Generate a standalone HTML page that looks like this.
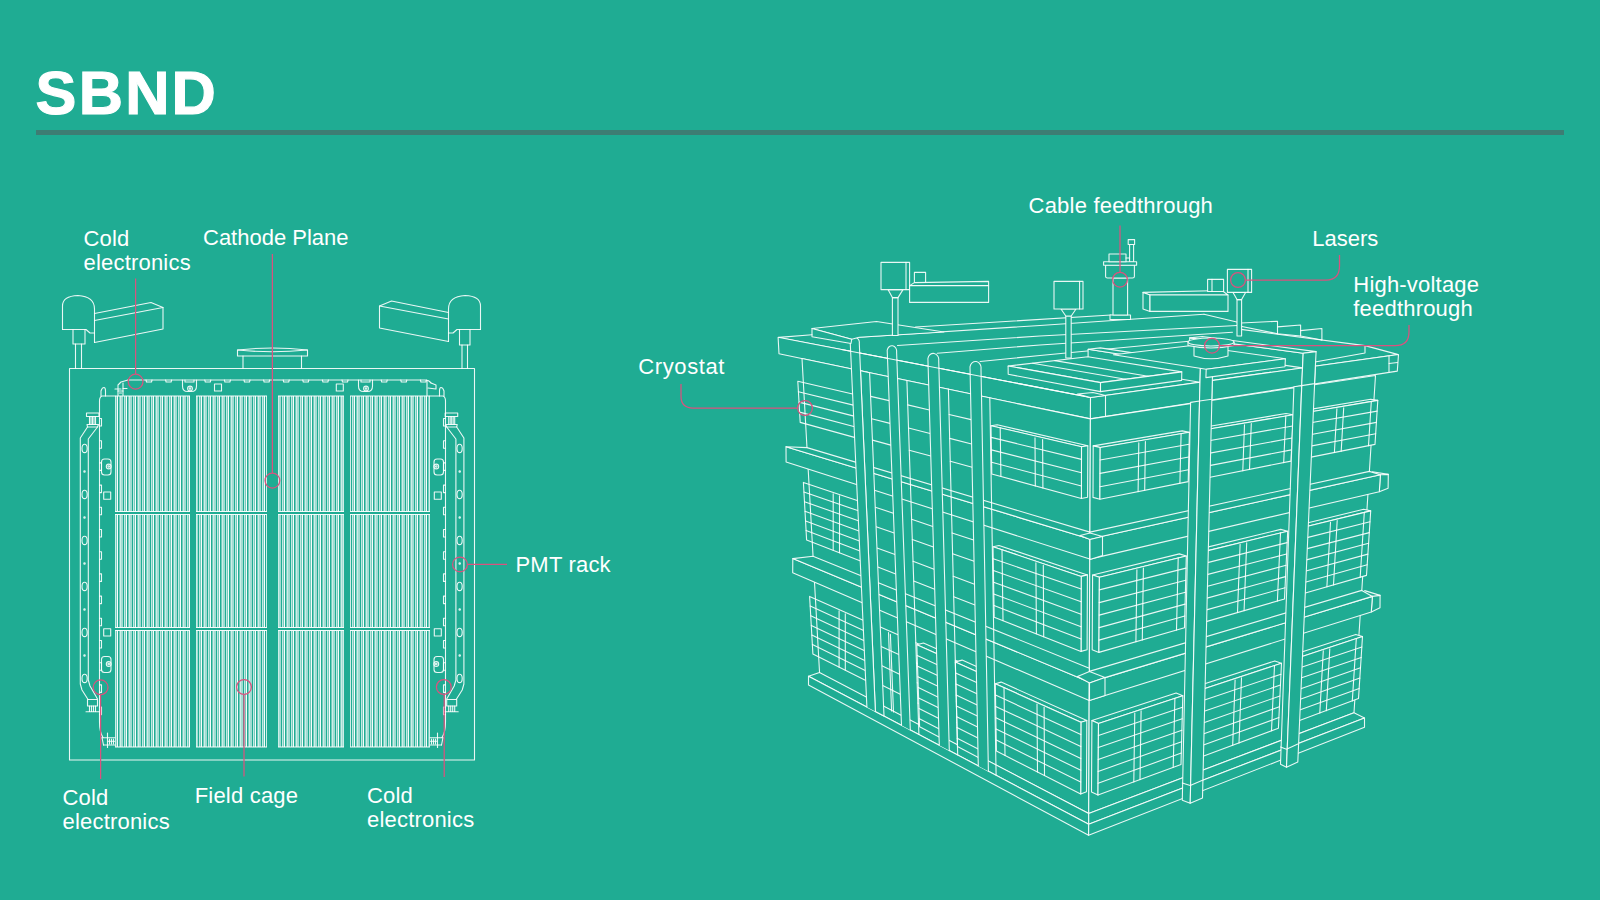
<!DOCTYPE html>
<html><head><meta charset="utf-8"><title>SBND</title>
<style>
html,body{margin:0;padding:0;}
body{width:1600px;height:900px;background:#1fac93;overflow:hidden;position:relative;font-family:"Liberation Sans",sans-serif;color:#fff;}
h1{position:absolute;left:35.6px;top:57.5px;-webkit-text-stroke:1.1px #fff;margin:0;font-size:61.3px;line-height:70px;font-weight:bold;letter-spacing:2.2px;}
.rule{position:absolute;left:36px;top:130px;width:1528px;height:5px;background:#3d7d73;}
.lb{position:absolute;font-size:22px;line-height:23.8px;white-space:nowrap;letter-spacing:.2px;}
svg{position:absolute;left:0;top:0;}
.w path,.w rect,.w circle,.w ellipse{fill:none;stroke:#fff;stroke-width:1.1;stroke-opacity:.9;stroke-linejoin:round;stroke-linecap:round}
.p path,.p circle{fill:none;stroke:#da527f;stroke-width:1.25;}
</style></head><body>
<h1>SBND</h1><div class="rule"></div>
<svg width="1600" height="900" viewBox="0 0 1600 900">
<g class="g"><path d="M115.5 396V511.5M115.5 514.5V627.5M115.5 630.5V747M120.5 396V511.5M120.5 514.5V627.5M120.5 630.5V747M129.5 396V511.5M129.5 514.5V627.5M129.5 630.5V747M138.5 396V511.5M138.5 514.5V627.5M138.5 630.5V747M147.5 396V511.5M147.5 514.5V627.5M147.5 630.5V747M156.5 396V511.5M156.5 514.5V627.5M156.5 630.5V747M165.5 396V511.5M165.5 514.5V627.5M165.5 630.5V747M174.5 396V511.5M174.5 514.5V627.5M174.5 630.5V747M183.5 396V511.5M183.5 514.5V627.5M183.5 630.5V747" fill="none" stroke="#fff" stroke-width="1" stroke-opacity="0.78"/>
<path d="M116.5 396V511.5M116.5 514.5V627.5M116.5 630.5V747M119.5 396V511.5M119.5 514.5V627.5M119.5 630.5V747M125.5 396V511.5M125.5 514.5V627.5M125.5 630.5V747M128.5 396V511.5M128.5 514.5V627.5M128.5 630.5V747M134.5 396V511.5M134.5 514.5V627.5M134.5 630.5V747M137.5 396V511.5M137.5 514.5V627.5M137.5 630.5V747M143.5 396V511.5M143.5 514.5V627.5M143.5 630.5V747M146.5 396V511.5M146.5 514.5V627.5M146.5 630.5V747M152.5 396V511.5M152.5 514.5V627.5M152.5 630.5V747M155.5 396V511.5M155.5 514.5V627.5M155.5 630.5V747M161.5 396V511.5M161.5 514.5V627.5M161.5 630.5V747M164.5 396V511.5M164.5 514.5V627.5M164.5 630.5V747M170.5 396V511.5M170.5 514.5V627.5M170.5 630.5V747M173.5 396V511.5M173.5 514.5V627.5M173.5 630.5V747M179.5 396V511.5M179.5 514.5V627.5M179.5 630.5V747M182.5 396V511.5M182.5 514.5V627.5M182.5 630.5V747M188.5 396V511.5M188.5 514.5V627.5M188.5 630.5V747" fill="none" stroke="#fff" stroke-width="1" stroke-opacity="0.39"/>
<path d="M117.5 396V511.5M117.5 514.5V627.5M117.5 630.5V747M126.5 396V511.5M126.5 514.5V627.5M126.5 630.5V747M135.5 396V511.5M135.5 514.5V627.5M135.5 630.5V747M144.5 396V511.5M144.5 514.5V627.5M144.5 630.5V747M153.5 396V511.5M153.5 514.5V627.5M153.5 630.5V747M162.5 396V511.5M162.5 514.5V627.5M162.5 630.5V747M171.5 396V511.5M171.5 514.5V627.5M171.5 630.5V747M180.5 396V511.5M180.5 514.5V627.5M180.5 630.5V747M189.5 396V511.5M189.5 514.5V627.5M189.5 630.5V747" fill="none" stroke="#fff" stroke-width="1" stroke-opacity="0.97"/>
<path d="M121.5 396V511.5M121.5 514.5V627.5M121.5 630.5V747M122.5 396V511.5M122.5 514.5V627.5M122.5 630.5V747M130.5 396V511.5M130.5 514.5V627.5M130.5 630.5V747M131.5 396V511.5M131.5 514.5V627.5M131.5 630.5V747M139.5 396V511.5M139.5 514.5V627.5M139.5 630.5V747M140.5 396V511.5M140.5 514.5V627.5M140.5 630.5V747M148.5 396V511.5M148.5 514.5V627.5M148.5 630.5V747M149.5 396V511.5M149.5 514.5V627.5M149.5 630.5V747M157.5 396V511.5M157.5 514.5V627.5M157.5 630.5V747M158.5 396V511.5M158.5 514.5V627.5M158.5 630.5V747M166.5 396V511.5M166.5 514.5V627.5M166.5 630.5V747M167.5 396V511.5M167.5 514.5V627.5M167.5 630.5V747M175.5 396V511.5M175.5 514.5V627.5M175.5 630.5V747M176.5 396V511.5M176.5 514.5V627.5M176.5 630.5V747M184.5 396V511.5M184.5 514.5V627.5M184.5 630.5V747M185.5 396V511.5M185.5 514.5V627.5M185.5 630.5V747" fill="none" stroke="#fff" stroke-width="1" stroke-opacity="0.58"/>
<path d="M124.5 396V511.5M124.5 514.5V627.5M124.5 630.5V747M133.5 396V511.5M133.5 514.5V627.5M133.5 630.5V747M142.5 396V511.5M142.5 514.5V627.5M142.5 630.5V747M151.5 396V511.5M151.5 514.5V627.5M151.5 630.5V747M160.5 396V511.5M160.5 514.5V627.5M160.5 630.5V747M169.5 396V511.5M169.5 514.5V627.5M169.5 630.5V747M178.5 396V511.5M178.5 514.5V627.5M178.5 630.5V747M187.5 396V511.5M187.5 514.5V627.5M187.5 630.5V747" fill="none" stroke="#fff" stroke-width="1" stroke-opacity="0.73"/>
<path d="M115 396H190M115 511.5H190M115 514.5H190M115 627.5H190M115 630.5H190M115 747H190" fill="none" stroke="#fff" stroke-width="1" stroke-opacity=".95"/>
<path d="M196.5 396V511.5M196.5 514.5V627.5M196.5 630.5V747M204.5 396V511.5M204.5 514.5V627.5M204.5 630.5V747M213.5 396V511.5M213.5 514.5V627.5M213.5 630.5V747M222.5 396V511.5M222.5 514.5V627.5M222.5 630.5V747M231.5 396V511.5M231.5 514.5V627.5M231.5 630.5V747M240.5 396V511.5M240.5 514.5V627.5M240.5 630.5V747M249.5 396V511.5M249.5 514.5V627.5M249.5 630.5V747M258.5 396V511.5M258.5 514.5V627.5M258.5 630.5V747M266.5 396V511.5M266.5 514.5V627.5M266.5 630.5V747" fill="none" stroke="#fff" stroke-width="1" stroke-opacity="0.78"/>
<path d="M197.5 396V511.5M197.5 514.5V627.5M197.5 630.5V747M205.5 396V511.5M205.5 514.5V627.5M205.5 630.5V747M206.5 396V511.5M206.5 514.5V627.5M206.5 630.5V747M214.5 396V511.5M214.5 514.5V627.5M214.5 630.5V747M215.5 396V511.5M215.5 514.5V627.5M215.5 630.5V747M223.5 396V511.5M223.5 514.5V627.5M223.5 630.5V747M224.5 396V511.5M224.5 514.5V627.5M224.5 630.5V747M232.5 396V511.5M232.5 514.5V627.5M232.5 630.5V747M233.5 396V511.5M233.5 514.5V627.5M233.5 630.5V747M241.5 396V511.5M241.5 514.5V627.5M241.5 630.5V747M242.5 396V511.5M242.5 514.5V627.5M242.5 630.5V747M250.5 396V511.5M250.5 514.5V627.5M250.5 630.5V747M251.5 396V511.5M251.5 514.5V627.5M251.5 630.5V747M259.5 396V511.5M259.5 514.5V627.5M259.5 630.5V747M260.5 396V511.5M260.5 514.5V627.5M260.5 630.5V747" fill="none" stroke="#fff" stroke-width="1" stroke-opacity="0.58"/>
<path d="M199.5 396V511.5M199.5 514.5V627.5M199.5 630.5V747M208.5 396V511.5M208.5 514.5V627.5M208.5 630.5V747M217.5 396V511.5M217.5 514.5V627.5M217.5 630.5V747M226.5 396V511.5M226.5 514.5V627.5M226.5 630.5V747M235.5 396V511.5M235.5 514.5V627.5M235.5 630.5V747M244.5 396V511.5M244.5 514.5V627.5M244.5 630.5V747M253.5 396V511.5M253.5 514.5V627.5M253.5 630.5V747M262.5 396V511.5M262.5 514.5V627.5M262.5 630.5V747" fill="none" stroke="#fff" stroke-width="1" stroke-opacity="0.73"/>
<path d="M200.5 396V511.5M200.5 514.5V627.5M200.5 630.5V747M203.5 396V511.5M203.5 514.5V627.5M203.5 630.5V747M209.5 396V511.5M209.5 514.5V627.5M209.5 630.5V747M212.5 396V511.5M212.5 514.5V627.5M212.5 630.5V747M218.5 396V511.5M218.5 514.5V627.5M218.5 630.5V747M221.5 396V511.5M221.5 514.5V627.5M221.5 630.5V747M227.5 396V511.5M227.5 514.5V627.5M227.5 630.5V747M230.5 396V511.5M230.5 514.5V627.5M230.5 630.5V747M236.5 396V511.5M236.5 514.5V627.5M236.5 630.5V747M239.5 396V511.5M239.5 514.5V627.5M239.5 630.5V747M245.5 396V511.5M245.5 514.5V627.5M245.5 630.5V747M248.5 396V511.5M248.5 514.5V627.5M248.5 630.5V747M254.5 396V511.5M254.5 514.5V627.5M254.5 630.5V747M257.5 396V511.5M257.5 514.5V627.5M257.5 630.5V747M263.5 396V511.5M263.5 514.5V627.5M263.5 630.5V747" fill="none" stroke="#fff" stroke-width="1" stroke-opacity="0.39"/>
<path d="M201.5 396V511.5M201.5 514.5V627.5M201.5 630.5V747M210.5 396V511.5M210.5 514.5V627.5M210.5 630.5V747M219.5 396V511.5M219.5 514.5V627.5M219.5 630.5V747M228.5 396V511.5M228.5 514.5V627.5M228.5 630.5V747M237.5 396V511.5M237.5 514.5V627.5M237.5 630.5V747M246.5 396V511.5M246.5 514.5V627.5M246.5 630.5V747M255.5 396V511.5M255.5 514.5V627.5M255.5 630.5V747M264.5 396V511.5M264.5 514.5V627.5M264.5 630.5V747" fill="none" stroke="#fff" stroke-width="1" stroke-opacity="0.97"/>
<path d="M196 396H267M196 511.5H267M196 514.5H267M196 627.5H267M196 630.5H267M196 747H267" fill="none" stroke="#fff" stroke-width="1" stroke-opacity=".95"/>
<path d="M278.5 396V511.5M278.5 514.5V627.5M278.5 630.5V747M287.5 396V511.5M287.5 514.5V627.5M287.5 630.5V747M296.5 396V511.5M296.5 514.5V627.5M296.5 630.5V747M305.5 396V511.5M305.5 514.5V627.5M305.5 630.5V747M314.5 396V511.5M314.5 514.5V627.5M314.5 630.5V747M323.5 396V511.5M323.5 514.5V627.5M323.5 630.5V747M332.5 396V511.5M332.5 514.5V627.5M332.5 630.5V747M341.5 396V511.5M341.5 514.5V627.5M341.5 630.5V747M343.5 396V511.5M343.5 514.5V627.5M343.5 630.5V747" fill="none" stroke="#fff" stroke-width="1" stroke-opacity="0.78"/>
<path d="M279.5 396V511.5M279.5 514.5V627.5M279.5 630.5V747M280.5 396V511.5M280.5 514.5V627.5M280.5 630.5V747M288.5 396V511.5M288.5 514.5V627.5M288.5 630.5V747M289.5 396V511.5M289.5 514.5V627.5M289.5 630.5V747M297.5 396V511.5M297.5 514.5V627.5M297.5 630.5V747M298.5 396V511.5M298.5 514.5V627.5M298.5 630.5V747M306.5 396V511.5M306.5 514.5V627.5M306.5 630.5V747M307.5 396V511.5M307.5 514.5V627.5M307.5 630.5V747M315.5 396V511.5M315.5 514.5V627.5M315.5 630.5V747M316.5 396V511.5M316.5 514.5V627.5M316.5 630.5V747M324.5 396V511.5M324.5 514.5V627.5M324.5 630.5V747M325.5 396V511.5M325.5 514.5V627.5M325.5 630.5V747M333.5 396V511.5M333.5 514.5V627.5M333.5 630.5V747M334.5 396V511.5M334.5 514.5V627.5M334.5 630.5V747M342.5 396V511.5M342.5 514.5V627.5M342.5 630.5V747" fill="none" stroke="#fff" stroke-width="1" stroke-opacity="0.58"/>
<path d="M282.5 396V511.5M282.5 514.5V627.5M282.5 630.5V747M291.5 396V511.5M291.5 514.5V627.5M291.5 630.5V747M300.5 396V511.5M300.5 514.5V627.5M300.5 630.5V747M309.5 396V511.5M309.5 514.5V627.5M309.5 630.5V747M318.5 396V511.5M318.5 514.5V627.5M318.5 630.5V747M327.5 396V511.5M327.5 514.5V627.5M327.5 630.5V747M336.5 396V511.5M336.5 514.5V627.5M336.5 630.5V747" fill="none" stroke="#fff" stroke-width="1" stroke-opacity="0.73"/>
<path d="M283.5 396V511.5M283.5 514.5V627.5M283.5 630.5V747M286.5 396V511.5M286.5 514.5V627.5M286.5 630.5V747M292.5 396V511.5M292.5 514.5V627.5M292.5 630.5V747M295.5 396V511.5M295.5 514.5V627.5M295.5 630.5V747M301.5 396V511.5M301.5 514.5V627.5M301.5 630.5V747M304.5 396V511.5M304.5 514.5V627.5M304.5 630.5V747M310.5 396V511.5M310.5 514.5V627.5M310.5 630.5V747M313.5 396V511.5M313.5 514.5V627.5M313.5 630.5V747M319.5 396V511.5M319.5 514.5V627.5M319.5 630.5V747M322.5 396V511.5M322.5 514.5V627.5M322.5 630.5V747M328.5 396V511.5M328.5 514.5V627.5M328.5 630.5V747M331.5 396V511.5M331.5 514.5V627.5M331.5 630.5V747M337.5 396V511.5M337.5 514.5V627.5M337.5 630.5V747M340.5 396V511.5M340.5 514.5V627.5M340.5 630.5V747" fill="none" stroke="#fff" stroke-width="1" stroke-opacity="0.39"/>
<path d="M284.5 396V511.5M284.5 514.5V627.5M284.5 630.5V747M293.5 396V511.5M293.5 514.5V627.5M293.5 630.5V747M302.5 396V511.5M302.5 514.5V627.5M302.5 630.5V747M311.5 396V511.5M311.5 514.5V627.5M311.5 630.5V747M320.5 396V511.5M320.5 514.5V627.5M320.5 630.5V747M329.5 396V511.5M329.5 514.5V627.5M329.5 630.5V747M338.5 396V511.5M338.5 514.5V627.5M338.5 630.5V747" fill="none" stroke="#fff" stroke-width="1" stroke-opacity="0.97"/>
<path d="M278 396H344M278 511.5H344M278 514.5H344M278 627.5H344M278 630.5H344M278 747H344" fill="none" stroke="#fff" stroke-width="1" stroke-opacity=".95"/>
<path d="M350.5 396V511.5M350.5 514.5V627.5M350.5 630.5V747M357.5 396V511.5M357.5 514.5V627.5M357.5 630.5V747M366.5 396V511.5M366.5 514.5V627.5M366.5 630.5V747M375.5 396V511.5M375.5 514.5V627.5M375.5 630.5V747M384.5 396V511.5M384.5 514.5V627.5M384.5 630.5V747M393.5 396V511.5M393.5 514.5V627.5M393.5 630.5V747M402.5 396V511.5M402.5 514.5V627.5M402.5 630.5V747M411.5 396V511.5M411.5 514.5V627.5M411.5 630.5V747M420.5 396V511.5M420.5 514.5V627.5M420.5 630.5V747M429.5 396V511.5M429.5 514.5V627.5M429.5 630.5V747" fill="none" stroke="#fff" stroke-width="1" stroke-opacity="0.78"/>
<path d="M352.5 396V511.5M352.5 514.5V627.5M352.5 630.5V747M361.5 396V511.5M361.5 514.5V627.5M361.5 630.5V747M370.5 396V511.5M370.5 514.5V627.5M370.5 630.5V747M379.5 396V511.5M379.5 514.5V627.5M379.5 630.5V747M388.5 396V511.5M388.5 514.5V627.5M388.5 630.5V747M397.5 396V511.5M397.5 514.5V627.5M397.5 630.5V747M406.5 396V511.5M406.5 514.5V627.5M406.5 630.5V747M415.5 396V511.5M415.5 514.5V627.5M415.5 630.5V747M424.5 396V511.5M424.5 514.5V627.5M424.5 630.5V747" fill="none" stroke="#fff" stroke-width="1" stroke-opacity="0.73"/>
<path d="M353.5 396V511.5M353.5 514.5V627.5M353.5 630.5V747M356.5 396V511.5M356.5 514.5V627.5M356.5 630.5V747M362.5 396V511.5M362.5 514.5V627.5M362.5 630.5V747M365.5 396V511.5M365.5 514.5V627.5M365.5 630.5V747M371.5 396V511.5M371.5 514.5V627.5M371.5 630.5V747M374.5 396V511.5M374.5 514.5V627.5M374.5 630.5V747M380.5 396V511.5M380.5 514.5V627.5M380.5 630.5V747M383.5 396V511.5M383.5 514.5V627.5M383.5 630.5V747M389.5 396V511.5M389.5 514.5V627.5M389.5 630.5V747M392.5 396V511.5M392.5 514.5V627.5M392.5 630.5V747M398.5 396V511.5M398.5 514.5V627.5M398.5 630.5V747M401.5 396V511.5M401.5 514.5V627.5M401.5 630.5V747M407.5 396V511.5M407.5 514.5V627.5M407.5 630.5V747M410.5 396V511.5M410.5 514.5V627.5M410.5 630.5V747M416.5 396V511.5M416.5 514.5V627.5M416.5 630.5V747M419.5 396V511.5M419.5 514.5V627.5M419.5 630.5V747M425.5 396V511.5M425.5 514.5V627.5M425.5 630.5V747M428.5 396V511.5M428.5 514.5V627.5M428.5 630.5V747" fill="none" stroke="#fff" stroke-width="1" stroke-opacity="0.39"/>
<path d="M354.5 396V511.5M354.5 514.5V627.5M354.5 630.5V747M363.5 396V511.5M363.5 514.5V627.5M363.5 630.5V747M372.5 396V511.5M372.5 514.5V627.5M372.5 630.5V747M381.5 396V511.5M381.5 514.5V627.5M381.5 630.5V747M390.5 396V511.5M390.5 514.5V627.5M390.5 630.5V747M399.5 396V511.5M399.5 514.5V627.5M399.5 630.5V747M408.5 396V511.5M408.5 514.5V627.5M408.5 630.5V747M417.5 396V511.5M417.5 514.5V627.5M417.5 630.5V747M426.5 396V511.5M426.5 514.5V627.5M426.5 630.5V747" fill="none" stroke="#fff" stroke-width="1" stroke-opacity="0.97"/>
<path d="M358.5 396V511.5M358.5 514.5V627.5M358.5 630.5V747M359.5 396V511.5M359.5 514.5V627.5M359.5 630.5V747M367.5 396V511.5M367.5 514.5V627.5M367.5 630.5V747M368.5 396V511.5M368.5 514.5V627.5M368.5 630.5V747M376.5 396V511.5M376.5 514.5V627.5M376.5 630.5V747M377.5 396V511.5M377.5 514.5V627.5M377.5 630.5V747M385.5 396V511.5M385.5 514.5V627.5M385.5 630.5V747M386.5 396V511.5M386.5 514.5V627.5M386.5 630.5V747M394.5 396V511.5M394.5 514.5V627.5M394.5 630.5V747M395.5 396V511.5M395.5 514.5V627.5M395.5 630.5V747M403.5 396V511.5M403.5 514.5V627.5M403.5 630.5V747M404.5 396V511.5M404.5 514.5V627.5M404.5 630.5V747M412.5 396V511.5M412.5 514.5V627.5M412.5 630.5V747M413.5 396V511.5M413.5 514.5V627.5M413.5 630.5V747M421.5 396V511.5M421.5 514.5V627.5M421.5 630.5V747M422.5 396V511.5M422.5 514.5V627.5M422.5 630.5V747" fill="none" stroke="#fff" stroke-width="1" stroke-opacity="0.58"/>
<path d="M350 396H430M350 511.5H430M350 514.5H430M350 627.5H430M350 630.5H430M350 747H430" fill="none" stroke="#fff" stroke-width="1" stroke-opacity=".95"/></g>
<g class="w">
<rect x="69.5" y="368.5" width="405.0" height="391.5"/>
<path d="M62.5 329.5V306Q62.5 296 78 295.5Q94.5 296.5 94.5 309V342.5"/>
<path d="M62.5 329.5L86.0 329.5L90.0 333.0L94.5 333.0"/>
<path d="M73.0 329.5L73.0 344.0L85.0 344.0L85.0 329.5"/>
<path d="M75.5 344.0L75.5 368.5"/>
<path d="M81.5 344.0L81.5 368.5"/>
<path d="M94.5 313.5L151.0 302.5L163.0 307.5L163.0 329.0L94.5 342.5"/>
<path d="M94.5 320.5L163.0 307.5"/>
<path d="M480.5 329.5V306Q480.5 296 465 295.5Q448.5 296.5 448.5 309V341.5"/>
<path d="M480.5 329.5L457.0 329.5L453.0 333.0L448.5 333.0"/>
<path d="M459.5 329.5L459.5 345.0L470.0 345.0L470.0 329.5"/>
<path d="M462.0 345.0L462.0 368.5"/>
<path d="M467.5 345.0L467.5 368.5"/>
<path d="M448.5 312.5L391.5 301.0L379.5 306.0L379.5 328.0L448.5 341.5"/>
<path d="M448.5 319.0L379.5 306.0"/>
<path d="M237.5 350Q272.5 346 307.5 350V356H237.5Z"/>
<path d="M237.5 350Q272.5 353.5 307.5 350"/>
<path d="M243.0 356.0L243.0 368.5"/>
<path d="M301.5 356.0L301.5 368.5"/>
<path d="M128 380H425Q429 380 431 383"/>
<path d="M146.0 380.0L146.5 382.0L151.5 382.0L152.0 380.0"/>
<path d="M165.6 380.0L166.1 382.0L171.1 382.0L171.6 380.0"/>
<path d="M204.8 380.0L205.3 382.0L210.3 382.0L210.8 380.0"/>
<path d="M224.4 380.0L224.9 382.0L229.9 382.0L230.4 380.0"/>
<path d="M244.0 380.0L244.5 382.0L249.5 382.0L250.0 380.0"/>
<path d="M263.6 380.0L264.1 382.0L269.1 382.0L269.6 380.0"/>
<path d="M283.2 380.0L283.7 382.0L288.7 382.0L289.2 380.0"/>
<path d="M302.8 380.0L303.3 382.0L308.3 382.0L308.8 380.0"/>
<path d="M322.4 380.0L322.9 382.0L327.9 382.0L328.4 380.0"/>
<path d="M342.0 380.0L342.5 382.0L347.5 382.0L348.0 380.0"/>
<path d="M381.2 380.0L381.7 382.0L386.7 382.0L387.2 380.0"/>
<path d="M400.8 380.0L401.3 382.0L406.3 382.0L406.8 380.0"/>
<path d="M420.4 380.0L420.9 382.0L425.9 382.0L426.4 380.0"/>
<path d="M115.0 389.0L121.0 389.0"/>
<path d="M118.0 395.5L118.0 385.0L121.0 382.0L128.0 380.0"/>
<path d="M123.0 395.5L123.0 383.0"/>
<path d="M118.0 391.0L123.0 391.0"/>
<path d="M123.0 388.5L127.0 388.5"/>
<path d="M119.5 393.0L121.5 393.0"/>
<path d="M427.0 395.5L427.0 381.0"/>
<path d="M431.0 383.0L436.0 385.0L436.0 389.0L428.0 388.0"/>
<path d="M182.5 380V386Q182.5 391.5 187.5 391.5H191.5Q196.5 391.5 196.5 386V380"/>
<path d="M185.0 380V382H194.0V380"/>
<circle cx="190.0" cy="388.5" r="2.4"/>
<circle cx="190.0" cy="388.5" r="0.8"/>
<path d="M358.5 380V386Q358.5 391.5 363.5 391.5H367.5Q372.5 391.5 372.5 386V380"/>
<path d="M361.0 380V382H370.0V380"/>
<circle cx="366.0" cy="388.5" r="2.4"/>
<circle cx="366.0" cy="388.5" r="0.8"/>
<rect x="214.5" y="384.0" width="7.0" height="7.0"/>
<rect x="336.3" y="384.0" width="7.0" height="7.0"/>
<path d="M101 396V391Q102 387.5 104 387.5Q105.5 387.5 105.5 391V396"/>
<path d="M444 396V391Q443 387.5 441 387.5Q439.5 387.5 439.5 391V396"/>
<path d="M115 396H102Q99.5 397 99.5 401V722Q99.5 732 103 737.5"/>
<path d="M430 396H443Q445.5 397 445.5 401V722Q445.5 732 442 737.5"/>
<path d="M99.5 418.5H101.5V426.0H99.5"/>
<path d="M445.5 418.5H443.5V426.0H445.5"/>
<path d="M99.5 440.7H101.5V448.2H99.5"/>
<path d="M445.5 440.7H443.5V448.2H445.5"/>
<path d="M99.5 462.9H101.5V470.4H99.5"/>
<path d="M445.5 462.9H443.5V470.4H445.5"/>
<path d="M99.5 485.1H101.5V492.6H99.5"/>
<path d="M445.5 485.1H443.5V492.6H445.5"/>
<path d="M99.5 507.3H101.5V514.8H99.5"/>
<path d="M445.5 507.3H443.5V514.8H445.5"/>
<path d="M99.5 529.5H101.5V537.0H99.5"/>
<path d="M445.5 529.5H443.5V537.0H445.5"/>
<path d="M99.5 551.7H101.5V559.2H99.5"/>
<path d="M445.5 551.7H443.5V559.2H445.5"/>
<path d="M99.5 573.9H101.5V581.4H99.5"/>
<path d="M445.5 573.9H443.5V581.4H445.5"/>
<path d="M99.5 596.1H101.5V603.6H99.5"/>
<path d="M445.5 596.1H443.5V603.6H445.5"/>
<path d="M99.5 618.3H101.5V625.8H99.5"/>
<path d="M445.5 618.3H443.5V625.8H445.5"/>
<path d="M99.5 640.5H101.5V648.0H99.5"/>
<path d="M445.5 640.5H443.5V648.0H445.5"/>
<path d="M99.5 662.7H101.5V670.2H99.5"/>
<path d="M445.5 662.7H443.5V670.2H445.5"/>
<path d="M99.5 684.9H101.5V692.4H99.5"/>
<path d="M445.5 684.9H443.5V692.4H445.5"/>
<path d="M99.5 707.1H101.5V714.6H99.5"/>
<path d="M445.5 707.1H443.5V714.6H445.5"/>
<path d="M101.5 462Q101.5 459 104.5 459H108Q111 459 111 462V472Q111 475 108 475H104.5Q101.5 475 101.5 472Z"/>
<circle cx="108.7" cy="466.5" r="2.4"/>
<circle cx="108.7" cy="466.5" r="0.8"/>
<path d="M443.5 462Q443.5 459 440.5 459H437Q434 459 434 462V472Q434 475 437 475H440.5Q443.5 475 443.5 472Z"/>
<circle cx="436.3" cy="466.5" r="2.4"/>
<circle cx="436.3" cy="466.5" r="0.8"/>
<path d="M101.5 659.5Q101.5 656.5 104.5 656.5H108Q111 656.5 111 659.5V669.5Q111 672.5 108 672.5H104.5Q101.5 672.5 101.5 669.5Z"/>
<circle cx="108.7" cy="664.0" r="2.4"/>
<circle cx="108.7" cy="664.0" r="0.8"/>
<path d="M443.5 659.5Q443.5 656.5 440.5 656.5H437Q434 656.5 434 659.5V669.5Q434 672.5 437 672.5H440.5Q443.5 672.5 443.5 669.5Z"/>
<circle cx="436.3" cy="664.0" r="2.4"/>
<circle cx="436.3" cy="664.0" r="0.8"/>
<rect x="103.7" y="492.0" width="7.0" height="7.3"/>
<rect x="434.3" y="492.0" width="7.0" height="7.3"/>
<rect x="103.7" y="628.7" width="7.0" height="7.3"/>
<rect x="434.3" y="628.7" width="7.0" height="7.3"/>
<path d="M86.5 413.0L99.0 413.0L99.0 416.5L86.5 416.5Z"/>
<path d="M89.5 416.5L89.5 424.5"/>
<path d="M91.0 416.5L91.0 424.5"/>
<path d="M92.5 416.5L92.5 424.5"/>
<path d="M94.0 416.5L94.0 424.5"/>
<path d="M95.5 416.5L95.5 424.5"/>
<path d="M87.0 424.5L98.5 424.5L97.5 427.0L87.5 427.0Z"/>
<path d="M87.5 427.0L80.3 438.0L80.3 684.0L82.0 690.0L88.0 699.5"/>
<path d="M97.5 427.0L88.3 439.0L88.3 680.0L90.0 686.0L97.5 699.0"/>
<path d="M87.5 699.5L97.5 699.5L97.5 706.0L87.5 706.0Z"/>
<path d="M89.5 706.0L89.5 711.5"/>
<path d="M91.5 706.0L91.5 711.5"/>
<path d="M93.5 706.0L93.5 711.5"/>
<path d="M95.5 706.0L95.5 711.5"/>
<path d="M86.0 711.8L100.0 711.8"/>
<ellipse cx="84.6" cy="448.4" rx="2.6" ry="4.2"/>
<ellipse cx="84.6" cy="494.4" rx="2.6" ry="4.2"/>
<ellipse cx="84.6" cy="540.4" rx="2.6" ry="4.2"/>
<ellipse cx="84.6" cy="586.4" rx="2.6" ry="4.2"/>
<ellipse cx="84.6" cy="632.4" rx="2.6" ry="4.2"/>
<ellipse cx="84.6" cy="678.4" rx="2.6" ry="4.2"/>
<circle cx="84.5" cy="471.5" r="0.7"/>
<circle cx="84.5" cy="517.5" r="0.7"/>
<circle cx="84.5" cy="563.5" r="0.7"/>
<circle cx="84.5" cy="609.5" r="0.7"/>
<circle cx="84.5" cy="655.5" r="0.7"/>
<path d="M457.7 413.0L445.2 413.0L445.2 416.5L457.7 416.5Z"/>
<path d="M454.7 416.5L454.7 424.5"/>
<path d="M453.2 416.5L453.2 424.5"/>
<path d="M451.7 416.5L451.7 424.5"/>
<path d="M450.2 416.5L450.2 424.5"/>
<path d="M448.7 416.5L448.7 424.5"/>
<path d="M457.2 424.5L445.7 424.5L446.7 427.0L456.7 427.0Z"/>
<path d="M456.7 427.0L463.9 438.0L463.9 684.0L462.2 690.0L456.2 699.5"/>
<path d="M446.7 427.0L455.9 439.0L455.9 680.0L454.2 686.0L446.7 699.0"/>
<path d="M456.7 699.5L446.7 699.5L446.7 706.0L456.7 706.0Z"/>
<path d="M454.7 706.0L454.7 711.5"/>
<path d="M452.7 706.0L452.7 711.5"/>
<path d="M450.7 706.0L450.7 711.5"/>
<path d="M448.7 706.0L448.7 711.5"/>
<path d="M458.2 711.8L444.2 711.8"/>
<ellipse cx="459.6" cy="448.4" rx="2.6" ry="4.2"/>
<ellipse cx="459.6" cy="494.4" rx="2.6" ry="4.2"/>
<ellipse cx="459.6" cy="540.4" rx="2.6" ry="4.2"/>
<ellipse cx="459.6" cy="586.4" rx="2.6" ry="4.2"/>
<ellipse cx="459.6" cy="632.4" rx="2.6" ry="4.2"/>
<ellipse cx="459.6" cy="678.4" rx="2.6" ry="4.2"/>
<circle cx="459.7" cy="471.5" r="0.7"/>
<circle cx="459.7" cy="517.5" r="0.7"/>
<circle cx="459.7" cy="563.5" r="0.7"/>
<circle cx="459.7" cy="609.5" r="0.7"/>
<circle cx="459.7" cy="655.5" r="0.7"/>
<path d="M102.0 737.7L115.0 737.7"/>
<path d="M103.5 745.0L115.0 745.0"/>
<path d="M102.0 737.7L103.5 745.0"/>
<path d="M107.5 733.0L107.5 747.5"/>
<path d="M109.5 739.0L109.5 744.0"/>
<path d="M111.5 739.0L111.5 744.0"/>
<path d="M113.5 739.0L113.5 744.0"/>
<path d="M108.0 741.3L114.5 741.3"/>
<path d="M443.0 737.7L430.0 737.7"/>
<path d="M441.5 745.0L430.0 745.0"/>
<path d="M443.0 737.7L441.5 745.0"/>
<path d="M437.5 733.0L437.5 747.5"/>
<path d="M435.5 739.0L435.5 744.0"/>
<path d="M433.5 739.0L433.5 744.0"/>
<path d="M431.5 739.0L431.5 744.0"/>
<path d="M437.0 741.3L430.5 741.3"/>
<path d="M778.8 337.5L1090.5 397.5L1397.7 354.6"/>
<path d="M1090.5 397.5L778.1 337.3L779.0 353.7L1090.4 418.9Z" style="fill:#1fac93"/>
<path d="M1090.5 397.5L1398.5 354.5L1397.3 371.1L1090.4 418.9Z" style="fill:#1fac93"/>
<path d="M1090.4 418.9L802.0 358.5L819.6 673.5L1088.7 813.4Z" style="fill:#1fac93"/>
<path d="M1090.4 418.9L1375.5 375.5L1354.0 712.8L1088.7 813.4Z" style="fill:#1fac93"/>
<path d="M1088.7 813.4L819.5 672.6L808.5 676.2L1088.7 824.2Z" style="fill:#1fac93"/>
<path d="M1088.7 824.2L808.5 676.2L808.5 684.9L1088.6 835.3Z" style="fill:#1fac93"/>
<path d="M1088.7 813.4L1354.0 712.8L1364.5 717.9L1088.7 824.2Z" style="fill:#1fac93"/>
<path d="M1088.7 824.2L1364.5 717.9L1364.5 727.3L1088.6 835.3Z" style="fill:#1fac93"/>
<path d="M870.6 396.4L889.1 400.6"/>
<path d="M871.6 418.7L890.0 423.4"/>
<path d="M872.5 440.1L890.8 445.1"/>
<path d="M875.3 507.2L893.4 513.2"/>
<path d="M876.1 526.7L894.2 533.1"/>
<path d="M877.0 547.9L895.0 554.6"/>
<path d="M877.8 567.1L895.7 574.1"/>
<path d="M880.3 626.9L898.0 634.8"/>
<path d="M881.1 646.4L898.8 654.6"/>
<path d="M881.9 665.8L899.5 674.3"/>
<path d="M882.7 685.4L900.3 694.2"/>
<path d="M907.7 404.9L929.4 410.0"/>
<path d="M908.5 428.0L930.1 433.5"/>
<path d="M909.2 450.2L930.8 456.0"/>
<path d="M911.6 519.3L932.8 526.5"/>
<path d="M912.3 539.5L933.4 547.0"/>
<path d="M913.0 561.3L934.1 569.2"/>
<path d="M913.7 581.1L934.7 589.3"/>
<path d="M915.8 642.7L936.6 652.0"/>
<path d="M916.5 662.9L937.2 672.5"/>
<path d="M917.2 682.8L937.8 692.8"/>
<path d="M917.9 703.0L938.4 713.2"/>
<path d="M949.1 414.5L971.1 419.6"/>
<path d="M949.7 438.4L971.6 444.0"/>
<path d="M950.3 461.3L972.1 467.3"/>
<path d="M952.1 532.9L973.6 540.1"/>
<path d="M952.6 553.8L974.1 561.3"/>
<path d="M953.2 576.3L974.5 584.3"/>
<path d="M953.7 596.8L975.0 605.1"/>
<path d="M955.3 660.3L976.3 669.7"/>
<path d="M955.9 681.1L976.8 690.8"/>
<path d="M956.4 701.7L977.2 711.8"/>
<path d="M956.9 722.5L977.6 732.9"/>
<path d="M786.0 446.7L1089.9 539.0L1089.8 559.1L786.1 462.0Z" style="fill:#1fac93"/>
<path d="M807.0 447.6L1089.9 532.1L1089.9 539.0L786.0 446.7Z" style="fill:#1fac93"/>
<path d="M792.8 558.6L1089.3 682.0L1089.2 700.5L792.7 572.8Z" style="fill:#1fac93"/>
<path d="M813.0 556.2L1089.3 668.2L1089.3 682.0L792.8 558.6Z" style="fill:#1fac93"/>
<path d="M797.8 381.2L856.9 395.0L858.9 438.6L800.2 422.4Z"/>
<path d="M798.4 391.7L857.4 406.1"/>
<path d="M799.0 402.1L857.9 417.1"/>
<path d="M799.6 412.1L858.4 427.7"/>
<path d="M803.4 482.4L861.7 501.9L864.4 562.5L806.6 539.9Z"/>
<path d="M803.9 492.1L862.2 512.1"/>
<path d="M804.5 501.7L862.6 522.3"/>
<path d="M805.0 511.3L863.1 532.4"/>
<path d="M805.6 520.9L863.5 542.5"/>
<path d="M806.1 530.4L864.0 552.5"/>
<path d="M833.2 493.7L833.2 550.3"/>
<path d="M839.5 495.8L839.5 552.8"/>
<path d="M809.6 596.4L867.1 622.1L869.8 682.6L812.9 654.0Z"/>
<path d="M810.2 606.1L867.5 632.3"/>
<path d="M810.7 615.8L868.0 642.5"/>
<path d="M811.3 625.4L868.4 652.6"/>
<path d="M811.8 635.0L868.9 662.6"/>
<path d="M812.4 644.5L869.3 672.6"/>
<path d="M839.1 610.9L839.1 667.2"/>
<path d="M845.3 613.7L845.3 670.3"/>
<path d="M923.5 643.0L944.3 652.2L937.5 654.0L916.8 644.7Z" style="fill:#1fac93"/>
<path d="M916.8 644.7L937.5 654.0L940.0 737.5L919.6 726.8Z" style="fill:#1fac93"/>
<path d="M917.2 655.5L937.9 664.9"/>
<path d="M917.6 666.2L938.2 675.8"/>
<path d="M917.9 676.8L938.5 686.6"/>
<path d="M918.3 687.4L938.8 697.4"/>
<path d="M918.6 697.9L939.1 708.1"/>
<path d="M919.0 708.4L939.4 718.7"/>
<path d="M919.4 718.8L939.8 729.3"/>
<path d="M962.1 660.1L984.3 670.0L977.5 671.9L955.3 661.9Z" style="fill:#1fac93"/>
<path d="M955.3 661.9L977.5 671.9L979.3 757.9L957.5 746.6Z" style="fill:#1fac93"/>
<path d="M955.6 673.0L977.7 683.1"/>
<path d="M955.9 684.0L978.0 694.3"/>
<path d="M956.1 695.0L978.2 705.5"/>
<path d="M956.4 705.9L978.4 716.6"/>
<path d="M956.7 716.8L978.6 727.6"/>
<path d="M957.0 727.6L978.9 738.6"/>
<path d="M957.2 738.3L979.1 749.5"/>
<path d="M888.5 632.5L891.6 710.9"/>
<path d="M890.4 634.4L893.5 711.9"/>
<path d="M997.2 424.8L1087.8 445.8L1081.5 446.8L991.0 425.7Z" style="fill:#1fac93"/>
<path d="M1087.8 445.8L1081.5 446.8L1081.4 498.5L1087.6 497.3Z" style="fill:#1fac93"/>
<path d="M991.0 425.7L1081.5 446.8L1081.4 498.5L991.8 474.0Z" style="fill:#1fac93"/>
<path d="M991.2 437.4L1081.5 459.4"/>
<path d="M991.4 449.9L1081.5 472.7"/>
<path d="M991.6 462.3L1081.4 486.0"/>
<path d="M1035.0 437.7L1035.3 485.9"/>
<path d="M1042.6 439.5L1042.9 487.9"/>
<path d="M1000.2 427.9L1000.9 476.5"/>
<path d="M999.0 545.5L1087.4 574.9L1081.2 576.4L993.0 546.8Z" style="fill:#1fac93"/>
<path d="M1087.4 574.9L1081.2 576.4L1081.0 651.4L1087.1 649.7Z" style="fill:#1fac93"/>
<path d="M993.0 546.8L1081.2 576.4L1081.0 651.4L994.2 617.2Z" style="fill:#1fac93"/>
<path d="M993.2 558.7L1081.2 589.0"/>
<path d="M993.4 570.5L1081.2 601.7"/>
<path d="M993.6 582.2L1081.1 614.2"/>
<path d="M993.8 593.9L1081.1 626.7"/>
<path d="M994.0 605.6L1081.1 639.1"/>
<path d="M1035.9 562.8L1036.4 633.8"/>
<path d="M1043.3 565.3L1043.7 636.7"/>
<path d="M1002.0 549.8L1003.0 620.6"/>
<path d="M1001.1 682.1L1086.8 720.4L1080.9 722.3L995.3 683.7Z" style="fill:#1fac93"/>
<path d="M1086.8 720.4L1080.9 722.3L1080.7 793.9L1086.5 791.8Z" style="fill:#1fac93"/>
<path d="M995.3 683.7L1080.9 722.3L1080.7 793.9L996.4 751.1Z" style="fill:#1fac93"/>
<path d="M995.5 695.1L1080.8 734.4"/>
<path d="M995.7 706.4L1080.8 746.4"/>
<path d="M995.9 717.7L1080.8 758.4"/>
<path d="M996.1 728.9L1080.8 770.3"/>
<path d="M996.3 740.0L1080.7 782.1"/>
<path d="M1037.0 704.1L1037.5 771.9"/>
<path d="M1044.1 707.3L1044.5 775.5"/>
<path d="M1004.0 687.7L1005.0 755.5"/>
<path d="M860.5 370.7L869.6 372.7L884.0 716.1L875.4 711.5Z" style="fill:#1fac93"/>
<path d="M866.9 707.0L850.2 341.7A4.5 5.2 0 0 1 859.3 343.4L875.4 711.5" style="fill:#1fac93"/>
<path d="M906.9 380.4L918.9 734.5"/>
<path d="M901.5 725.3L887.2 350.3A4.7 5.4 0 0 1 896.6 352.0L910.3 730.0" style="fill:#1fac93"/>
<path d="M948.4 389.1L957.7 755.0"/>
<path d="M939.3 745.3L927.9 358.6A5.4 6.2 0 0 1 938.7 360.6L949.3 750.6" style="fill:#1fac93"/>
<path d="M989.8 397.8L996.1 775.3"/>
<path d="M978.3 765.9L970.0 366.8A5.5 6.3 0 0 1 981.0 368.9L988.4 771.2" style="fill:#1fac93"/>
<path d="M1090.5 397.5L841.5 349.5"/>
<path d="M1380.4 474.7L1388.3 474.4L1388.1 488.2L1379.3 491.7Z" style="fill:#1fac93"/>
<path d="M1380.4 474.7L1089.9 539.0L1089.8 559.1L1379.3 491.7Z" style="fill:#1fac93"/>
<path d="M1369.4 471.4L1089.9 532.1L1089.9 539.0L1380.4 474.7Z" style="fill:#1fac93"/>
<path d="M1388.3 474.4L1372.4 471.8"/>
<path d="M1372.4 596.4L1380.1 595.4L1380.0 607.8L1371.3 611.9Z" style="fill:#1fac93"/>
<path d="M1372.4 596.4L1089.3 682.4L1089.2 700.5L1371.3 611.9Z" style="fill:#1fac93"/>
<path d="M1361.8 590.4L1089.3 671.4L1089.3 682.4L1372.4 596.4Z" style="fill:#1fac93"/>
<path d="M1380.1 595.4L1364.7 590.6"/>
<path d="M1093.2 445.9L1182.3 430.9L1189.4 432.3L1100.2 447.5Z" style="fill:#1fac93"/>
<path d="M1093.2 445.9L1100.2 447.5L1099.9 499.2L1093.0 497.4Z" style="fill:#1fac93"/>
<path d="M1100.2 447.5L1189.4 432.3L1188.2 481.6L1099.9 499.2Z" style="fill:#1fac93"/>
<path d="M1100.1 460.0L1189.1 444.3"/>
<path d="M1100.1 473.4L1188.8 457.0"/>
<path d="M1100.0 486.7L1188.5 469.7"/>
<path d="M1138.8 442.7L1138.1 491.6"/>
<path d="M1145.4 441.5L1144.7 490.3"/>
<path d="M1181.1 433.8L1179.9 483.3"/>
<path d="M1199.4 428.0L1286.0 413.5L1293.2 414.8L1206.5 429.5Z" style="fill:#1fac93"/>
<path d="M1199.4 428.0L1206.5 429.5L1205.1 478.3L1198.0 476.6Z" style="fill:#1fac93"/>
<path d="M1206.5 429.5L1293.2 414.8L1291.0 461.1L1205.1 478.3Z" style="fill:#1fac93"/>
<path d="M1206.1 441.3L1292.6 426.0"/>
<path d="M1205.8 453.9L1292.1 438.0"/>
<path d="M1205.4 466.4L1291.5 449.9"/>
<path d="M1244.5 424.7L1242.8 470.7"/>
<path d="M1251.3 423.5L1249.5 469.4"/>
<path d="M1285.8 416.0L1283.7 462.6"/>
<path d="M1301.3 410.9L1370.7 399.3L1377.8 400.4L1308.4 412.2Z" style="fill:#1fac93"/>
<path d="M1301.3 410.9L1308.4 412.2L1306.1 458.1L1299.1 456.6Z" style="fill:#1fac93"/>
<path d="M1308.4 412.2L1377.8 400.4L1375.0 444.4L1306.1 458.1Z" style="fill:#1fac93"/>
<path d="M1307.9 423.3L1377.1 411.1"/>
<path d="M1307.3 435.2L1376.4 422.4"/>
<path d="M1306.7 446.9L1375.7 433.7"/>
<path d="M1336.9 408.9L1334.4 452.5"/>
<path d="M1343.7 407.7L1341.2 451.1"/>
<path d="M1371.3 401.5L1368.5 445.7"/>
<path d="M1092.6 575.0L1179.4 553.9L1186.3 556.0L1099.4 577.2Z" style="fill:#1fac93"/>
<path d="M1092.6 575.0L1099.4 577.2L1098.9 652.4L1092.2 649.8Z" style="fill:#1fac93"/>
<path d="M1099.4 577.2L1186.3 556.0L1184.5 627.8L1098.9 652.4Z" style="fill:#1fac93"/>
<path d="M1099.3 589.9L1186.0 568.1"/>
<path d="M1099.2 602.6L1185.7 580.2"/>
<path d="M1099.2 615.1L1185.4 592.2"/>
<path d="M1099.1 627.6L1185.1 604.1"/>
<path d="M1099.0 640.1L1184.8 616.0"/>
<path d="M1136.9 569.7L1135.9 641.8"/>
<path d="M1143.4 568.1L1142.3 639.9"/>
<path d="M1178.2 558.0L1176.5 630.1"/>
<path d="M1196.0 549.9L1280.7 529.4L1287.7 531.2L1202.9 551.9Z" style="fill:#1fac93"/>
<path d="M1196.0 549.9L1202.9 551.9L1200.9 623.1L1194.1 620.8Z" style="fill:#1fac93"/>
<path d="M1202.9 551.9L1287.7 531.2L1284.5 599.0L1200.9 623.1Z" style="fill:#1fac93"/>
<path d="M1202.6 563.9L1287.1 542.6"/>
<path d="M1202.2 575.9L1286.6 554.0"/>
<path d="M1201.9 587.8L1286.1 565.3"/>
<path d="M1201.6 599.6L1285.5 576.6"/>
<path d="M1201.2 611.4L1285.0 587.8"/>
<path d="M1240.1 544.4L1237.5 612.5"/>
<path d="M1246.7 542.8L1244.1 610.6"/>
<path d="M1280.5 532.9L1277.4 601.0"/>
<path d="M1295.7 525.8L1363.7 509.3L1370.7 510.9L1302.6 527.5Z" style="fill:#1fac93"/>
<path d="M1295.7 525.8L1302.6 527.5L1299.3 594.7L1292.4 592.7Z" style="fill:#1fac93"/>
<path d="M1302.6 527.5L1370.7 510.9L1366.5 575.4L1299.3 594.7Z" style="fill:#1fac93"/>
<path d="M1302.1 538.9L1370.0 521.8"/>
<path d="M1301.5 550.1L1369.3 532.6"/>
<path d="M1300.9 561.4L1368.6 543.3"/>
<path d="M1300.4 572.5L1367.9 554.1"/>
<path d="M1299.8 583.7L1367.2 564.7"/>
<path d="M1330.5 522.2L1326.9 586.8"/>
<path d="M1337.2 520.5L1333.5 584.9"/>
<path d="M1364.3 512.4L1360.2 577.2"/>
<path d="M1091.9 720.5L1176.1 693.0L1182.8 695.7L1098.5 723.4Z" style="fill:#1fac93"/>
<path d="M1091.9 720.5L1098.5 723.4L1098.0 795.1L1091.5 791.9Z" style="fill:#1fac93"/>
<path d="M1098.5 723.4L1182.8 695.7L1181.0 764.4L1098.0 795.1Z" style="fill:#1fac93"/>
<path d="M1098.4 735.5L1182.5 707.3"/>
<path d="M1098.3 747.6L1182.2 718.8"/>
<path d="M1098.2 759.6L1181.9 730.3"/>
<path d="M1098.1 771.5L1181.6 741.7"/>
<path d="M1098.1 783.3L1181.3 753.1"/>
<path d="M1134.8 713.0L1133.8 781.9"/>
<path d="M1141.1 710.9L1140.0 779.6"/>
<path d="M1174.9 698.3L1173.2 767.3"/>
<path d="M1192.3 687.8L1274.8 660.9L1281.5 663.2L1198.9 690.4Z" style="fill:#1fac93"/>
<path d="M1192.3 687.8L1198.9 690.4L1197.0 758.5L1190.4 755.6Z" style="fill:#1fac93"/>
<path d="M1198.9 690.4L1281.5 663.2L1278.4 728.3L1197.0 758.5Z" style="fill:#1fac93"/>
<path d="M1198.6 701.9L1281.0 674.2"/>
<path d="M1198.3 713.3L1280.4 685.1"/>
<path d="M1198.0 724.7L1279.9 696.0"/>
<path d="M1197.6 736.0L1279.4 706.8"/>
<path d="M1197.3 747.3L1278.9 717.6"/>
<path d="M1235.1 680.0L1232.7 745.2"/>
<path d="M1241.5 677.8L1239.0 742.9"/>
<path d="M1274.5 665.5L1271.5 730.8"/>
<path d="M1289.3 656.1L1355.8 634.4L1362.5 636.5L1296.1 658.4Z" style="fill:#1fac93"/>
<path d="M1289.3 656.1L1296.1 658.4L1292.8 723.0L1286.2 720.4Z" style="fill:#1fac93"/>
<path d="M1296.1 658.4L1362.5 636.5L1358.5 698.6L1292.8 723.0Z" style="fill:#1fac93"/>
<path d="M1295.5 669.3L1361.9 647.0"/>
<path d="M1295.0 680.1L1361.2 657.4"/>
<path d="M1294.4 690.9L1360.5 667.8"/>
<path d="M1293.9 701.6L1359.9 678.1"/>
<path d="M1293.4 712.3L1359.2 688.4"/>
<path d="M1323.3 650.8L1319.8 713.0"/>
<path d="M1329.8 648.7L1326.3 710.6"/>
<path d="M1356.3 638.6L1352.3 700.9"/>
<path d="M1190.6 402.4L1199.5 401.0L1190.2 803.3L1182.3 800.3Z" style="fill:#1fac93"/>
<path d="M1200.0 382.2L1212.3 380.5L1202.5 798.0L1190.2 803.3Z" style="fill:#1fac93"/>
<path d="M1182.3 783.0L1190.2 785.5L1202.5 780.3"/>
<path d="M1293.9 386.7L1301.7 385.6L1286.5 767.3L1280.5 764.3Z" style="fill:#1fac93"/>
<path d="M1302.5 367.9L1315.4 366.1L1297.8 762.0L1286.5 767.3Z" style="fill:#1fac93"/>
<path d="M1280.5 747.0L1286.5 749.3L1297.8 744.0"/>
<path d="M915.5 327.0L1111.0 315.0"/>
<path d="M859.2 337.2L1040.0 325.5L1204.0 314.2"/>
<path d="M897.5 345.5L1040.0 336.0L1237.0 325.5"/>
<path d="M937.2 353.2L1040.0 345.0L1232.5 332.2"/>
<path d="M980.0 361.5L1040.0 355.5L1189.0 341.2"/>
<path d="M812.0 328.5L876.5 321.5L944.0 332.0L859.2 337.2L851.7 339.3Z" style="fill:#1fac93"/>
<path d="M812.0 328.5L851.7 339.3L851.0 343.5L812.0 336.7Z" style="fill:#1fac93"/>
<path d="M1204.0 314.2L1241.0 323.0L1277.5 321.3L1277.5 333.7"/>
<path d="M1277.5 326.9L1300.6 325.0L1300.6 336.0"/>
<path d="M1300.6 330.6L1321.9 328.5L1321.9 340.0"/>
<path d="M1241.0 329.4L1365.0 345.6L1397.5 354.4"/>
<path d="M1365.0 345.6L1365.0 353.0L1315.0 362.0"/>
<path d="M1237.0 325.5L1277.5 333.7L1300.6 336.0L1321.9 340.0"/>
<path d="M1389.0 356.0L1389.0 371.5"/>
<path d="M1389.0 363.5L1397.5 362.5"/>
<path d="M1303.2 353.3L1189.7 337.9L1189.3 351.4L1302.5 367.9Z" style="fill:#1fac93"/>
<path d="M1303.2 353.3L1316.1 351.6L1202.4 336.5L1189.7 337.9Z" style="fill:#1fac93"/>
<path d="M1303.2 353.3L1316.1 351.6L1314.5 383.6L1301.7 385.6Z" style="fill:#1fac93"/>
<path d="M1200.4 366.7L1088.1 349.3L1088.1 363.6L1200.0 382.2Z" style="fill:#1fac93"/>
<path d="M1200.4 366.7L1212.8 365.1L1100.3 347.9L1088.1 349.3Z" style="fill:#1fac93"/>
<path d="M1200.4 366.7L1212.8 365.1L1211.8 399.2L1199.5 401.0Z" style="fill:#1fac93"/>
<path d="M1206.2 369.2L1113.4 354.7L1191.9 345.5L1285.4 358.7Z" style="fill:#1fac93"/>
<path d="M1206.2 369.2L1285.4 358.7L1285.0 366.7L1205.9 377.6Z" style="fill:#1fac93"/>
<path d="M1100.5 382.6L1008.1 366.0L1087.8 356.8L1181.8 371.9Z" style="fill:#1fac93"/>
<path d="M1100.5 382.6L1008.1 366.0L1008.2 374.3L1100.5 391.6Z" style="fill:#1fac93"/>
<path d="M1100.5 382.6L1181.8 371.9L1181.6 380.4L1100.5 391.6Z" style="fill:#1fac93"/>
<path d="M1125.6 379.3L1032.6 363.2"/>
<path d="M1148.2 376.3L1054.8 360.6"/>
<path d="M1077.5 394.0L1090.5 397.5L1105.5 395.5L1093.0 392.5Z" style="fill:#1fac93"/>
<path d="M1105.5 395.5L1105.5 416.0"/>
<path d="M779.0 337.4L812.0 334.8"/>
<path d="M892.4 297.6L898.0 297.6L898.0 335.5L892.4 335.5Z" style="fill:#1fac93"/>
<path d="M888.0 289.6L903.0 289.6L898.0 297.6L892.4 297.6Z" style="fill:#1fac93"/>
<path d="M881.0 262.4L909.6 262.4L909.6 289.6L881.0 289.6Z" style="fill:#1fac93"/>
<path d="M906.0 262.4L906.0 289.6"/>
<path d="M914.4 272.4L925.6 272.4L925.6 283.0L914.4 283.0Z" style="fill:#1fac93"/>
<path d="M909.6 285.6L914.4 282.6L988.6 281.4L988.6 285.6Z" style="fill:#1fac93"/>
<path d="M909.6 285.6L988.6 285.6L988.6 302.4L909.6 302.4Z" style="fill:#1fac93"/>
<path d="M1065.8 316.0L1071.2 316.0L1071.2 358.0L1065.8 358.0Z" style="fill:#1fac93"/>
<path d="M1061.0 309.0L1076.0 309.0L1071.2 316.0L1065.8 316.0Z" style="fill:#1fac93"/>
<path d="M1054.0 281.4L1083.0 281.4L1083.0 309.0L1054.0 309.0Z" style="fill:#1fac93"/>
<path d="M1079.6 281.4L1079.6 309.0"/>
<path d="M1110.0 315.0L1130.5 315.0L1130.5 319.5L1110.0 319.5Z" style="fill:#1fac93"/>
<path d="M1113.0 278.0L1127.6 278.0L1127.6 315.0L1113.0 315.0Z" style="fill:#1fac93"/>
<path d="M1129.6 244.5L1133.6 244.5L1133.6 262.0L1129.6 262.0Z" style="fill:#1fac93"/>
<path d="M1128.2 239.6L1134.6 239.6L1134.6 244.5L1128.2 244.5Z" style="fill:#1fac93"/>
<path d="M1105.6 265V276.5Q1105.6 278 1107.5 278H1132.5Q1134.4 278 1134.4 276.5V265Z" style="fill:#1fac93"/>
<path d="M1103.6 261.8L1136.6 261.8L1136.6 265.2L1103.6 265.2Z" style="fill:#1fac93"/>
<path d="M1109.0 254.0L1126.0 254.0L1126.0 261.8L1109.0 261.8Z" style="fill:#1fac93"/>
<path d="M1126.0 258.0L1129.6 258.0"/>
<path d="M1143.0 292.4L1222.0 290.5L1228.0 295.0L1150.0 295.0Z" style="fill:#1fac93"/>
<path d="M1143.0 292.4L1150.0 295.0L1150.0 311.4L1143.0 309.0Z" style="fill:#1fac93"/>
<path d="M1150.0 295.0L1228.0 295.0L1228.0 311.4L1150.0 311.4Z" style="fill:#1fac93"/>
<path d="M1207.6 279.4L1223.6 279.4L1223.6 291.5L1207.6 291.5Z" style="fill:#1fac93"/>
<path d="M1212.0 279.4L1212.0 291.5"/>
<path d="M1237.0 299.6L1241.6 299.6L1241.6 336.0L1237.0 336.0Z" style="fill:#1fac93"/>
<path d="M1233.0 292.4L1245.6 292.4L1241.6 299.6L1237.0 299.6Z" style="fill:#1fac93"/>
<path d="M1227.4 269.4L1251.6 269.4L1251.6 292.4L1227.4 292.4Z" style="fill:#1fac93"/>
<path d="M1248.0 269.4L1248.0 292.4"/>
<path d="M1194 345V356Q1211 361.5 1228 356V345Z" style="fill:#1fac93"/>
<path d="M1188 342V345.5Q1211 350.5 1234 345.5V342Z" style="fill:#1fac93"/>
<ellipse cx="1211" cy="342" rx="23" ry="4" style="fill:#1fac93"/>
<path d="M1080.0 535.5L1090.0 533.0L1102.5 536.5L1090.0 539.5Z" style="fill:#1fac93"/>
<path d="M1090.0 539.5L1102.5 536.5L1102.5 555.5L1090.0 559.5Z" style="fill:#1fac93"/>
<path d="M1077.5 676.5L1089.5 671.5L1105.0 677.5L1089.5 683.0Z" style="fill:#1fac93"/>
<path d="M1089.5 683.0L1105.0 677.5L1105.0 695.5L1089.5 700.5Z" style="fill:#1fac93"/>
</g>
<g class="p">
<circle cx="135.6" cy="381.6" r="7.4"/>
<path d="M135.6 278.5V374"/>
<circle cx="272.4" cy="480.6" r="7.4"/>
<path d="M272.4 254V473"/>
<circle cx="244" cy="687" r="7.4"/>
<path d="M244 694.5V776.5"/>
<circle cx="100.6" cy="687.3" r="7.4"/>
<path d="M100.6 694.7V779"/>
<circle cx="443.8" cy="687" r="7.4"/>
<path d="M444.2 694.5V777"/>
<circle cx="460" cy="564.4" r="7.4"/>
<path d="M467.5 564.4H507"/>
<circle cx="805" cy="408" r="7.4"/>
<path d="M681 384V396Q681 408 693 408H797.5"/>
<circle cx="1120" cy="279.7" r="7.4"/>
<path d="M1120 225.5V272"/>
<circle cx="1238" cy="280" r="7.4"/>
<path d="M1245.5 280H1326Q1339.5 280 1339.5 266V255"/>
<circle cx="1212" cy="345.7" r="7.4"/>
<path d="M1219.5 345.7H1395Q1409 345.7 1409 332V325"/>
</g>
</svg>
<div class="lb" style="left:83.5px;top:227.3px">Cold<br>electronics</div>
<div class="lb" style="left:203px;top:226.3px;letter-spacing:0">Cathode Plane</div>
<div class="lb" style="left:515.5px;top:553.3px">PMT rack</div>
<div class="lb" style="left:62.5px;top:786px">Cold<br>electronics</div>
<div class="lb" style="left:194.7px;top:783.8px">Field cage</div>
<div class="lb" style="left:367px;top:783.8px">Cold<br>electronics</div>
<div class="lb" style="left:638.3px;top:355px;letter-spacing:.6px">Cryostat</div>
<div class="lb" style="left:1028.6px;top:194px">Cable feedthrough</div>
<div class="lb" style="left:1312.3px;top:227px;letter-spacing:0">Lasers</div>
<div class="lb" style="left:1353.3px;top:273px">High-voltage<br>feedthrough</div>
</body></html>
